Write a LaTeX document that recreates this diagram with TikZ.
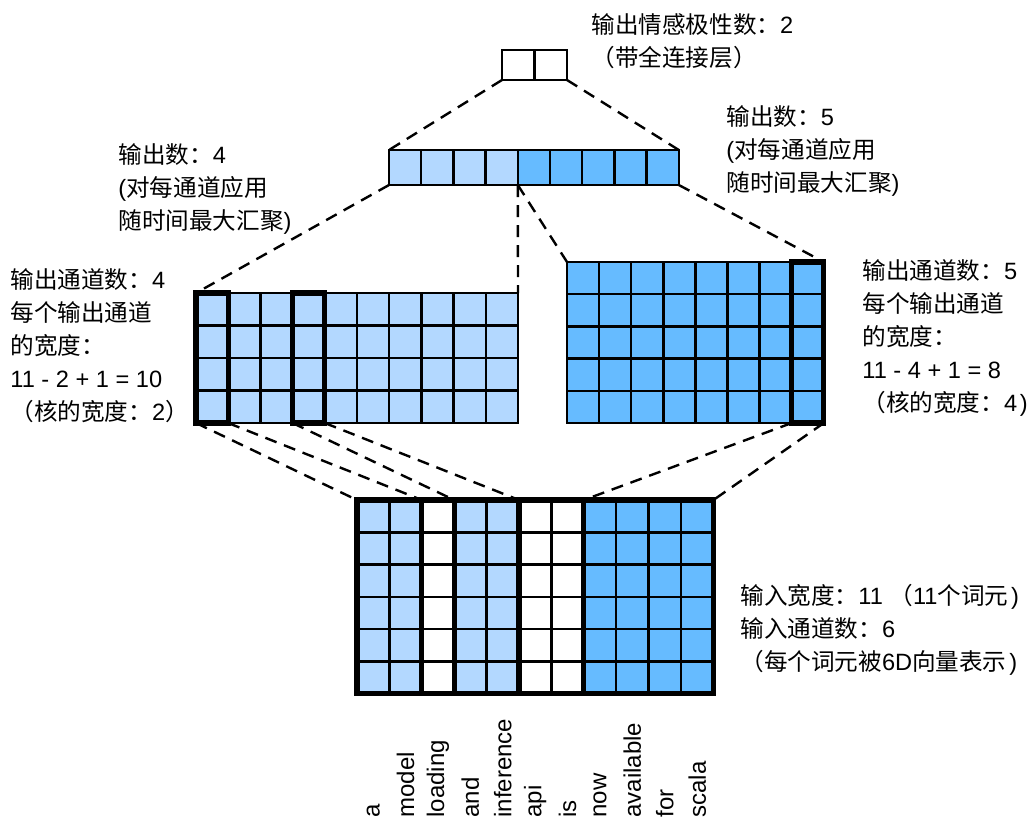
\documentclass[tikz,border=0pt]{standalone}
\usepackage{fontspec}
\setmainfont{Liberation Sans}
\newfontfamily\cjk{Noto Sans CJK SC}
\usetikzlibrary{positioning,calc}
\definecolor{cnLight}{HTML}{B3D8FF}
\definecolor{cnDark}{HTML}{66BBFF}
\newcommand{\cjkrpar}{\kern0.12em)}
\tikzset{
  cell/.style={draw=black, line width=1.2pt},
  hilite/.style={draw=black, line width=2.6pt},
  link/.style={line width=1.2pt, dash pattern=on 6pt off 4pt},
  lbl/.style={anchor=north west, align=left, inner sep=0pt,
    font=\fontsize{11.8}{16.5}\selectfont},
  word/.style={rotate=90, anchor=west, inner sep=0pt,
    font=\fontsize{12}{13}\selectfont}
}

\begin{document}
\begin{tikzpicture}[x=0.5pt, y=-0.5pt]
  \useasboundingbox (0,0) rectangle (1027,819);

  % fully connected output
  \foreach \i in {0,1}
    \draw[cell, fill=white] (502+\i*32.5,50) rectangle ++(32.5,30);
  \coordinate (fc-bl) at (502,80);
  \coordinate (fc-br) at (567,80);

  % max-pooling output
  \foreach \i in {0,...,3}
    \draw[cell, fill=cnLight] (389+\i*32.2,150) rectangle ++(32.2,35);
  \foreach \i in {4,...,8}
    \draw[cell, fill=cnDark] (389+\i*32.2,150) rectangle ++(32.2,35);
  \coordinate (pool-tl) at (389,150);
  \coordinate (pool-tr) at (678.8,150);
  \coordinate (pool-bl) at (389,185);
  \coordinate (pool-bm) at (517.8,185);
  \coordinate (pool-br) at (678.8,185);

  % conv output, kernel width 2
  \foreach \i in {0,...,9}
    \foreach \j in {0,...,3}
      \draw[cell, fill=cnLight] (196+\i*32.2,293+\j*32.5) rectangle ++(32.2,32.5);
  \draw[hilite] (196,293) rectangle ++(32.2,130);
  \draw[hilite] (196+3*32.2,293) rectangle ++(32.2,130);
  \coordinate (lc-tl) at (196,293);
  \coordinate (lc-tr) at (518,293);
  \coordinate (lc-b0) at (196,423);
  \coordinate (lc-b1) at (228.2,423);
  \coordinate (lc-b3) at (292.6,423);
  \coordinate (lc-b4) at (324.8,423);

  % conv output, kernel width 4
  \foreach \i in {0,...,7}
    \foreach \j in {0,...,4}
      \draw[cell, fill=cnDark] (567+\i*32.1,262+\j*32.2) rectangle ++(32.1,32.2);
  \draw[hilite] (567+7*32.1,262) rectangle ++(32.1,161);
  \coordinate (rc-tl) at (567,262);
  \coordinate (rc-tr) at (823.8,262);
  \coordinate (rc-b7) at (791.7,423);
  \coordinate (rc-b8) at (823.8,423);

  % input
  \foreach \i/\c in {0/cnLight,1/cnLight,2/white,3/cnLight,4/cnLight,5/white,
                     6/white,7/cnDark,8/cnDark,9/cnDark,10/cnDark}
    \foreach \j in {0,...,5}
      \draw[cell, fill=\c] (357+\i*32.4,500+\j*32.3) rectangle ++(32.4,32.3);
  \draw[hilite] (357,500) rectangle ++(356.4,193.8);
  \draw[hilite] (357,500) rectangle ++(64.8,193.8);
  \draw[hilite] (357+3*32.4,500) rectangle ++(64.8,193.8);
  \draw[hilite] (357+7*32.4,500) rectangle ++(129.6,193.8);
  \coordinate (in-t0) at (357,500);
  \coordinate (in-t2) at (421.8,500);
  \coordinate (in-t3) at (454.2,500);
  \coordinate (in-t5) at (519,500);
  \coordinate (in-t7) at (583.8,500);
  \coordinate (in-t11) at (713.4,500);

  % dashed links
  \draw[link] (fc-bl) -- (pool-tl);
  \draw[link] (fc-br) -- (pool-tr);
  \draw[link] (pool-bl) -- (lc-tl);
  \draw[link] (pool-bm) -- (lc-tr);
  \draw[link] (pool-bm) -- (rc-tl);
  \draw[link] (pool-br) -- (rc-tr);
  \draw[link] (lc-b0) -- (in-t0);
  \draw[link] (lc-b1) -- (in-t2);
  \draw[link] (lc-b3) -- (in-t3);
  \draw[link] (lc-b4) -- (in-t5);
  \draw[link] (rc-b7) -- (in-t7);
  \draw[link] (rc-b8) -- (in-t11);

  % labels
  \node[lbl] (fc-lbl) at (591,13)
    {{\cjk 输出情感极性数：}2\\{\cjk （带全连接层）}};
  \node[lbl] (pool-lbl-l) at (118,143)
    {{\cjk 输出数：}4\\({\cjk 对每通道应用}\\{\cjk 随时间最大汇聚})};
  \node[lbl] (pool-lbl-r) at (726,105)
    {{\cjk 输出数：}5\\({\cjk 对每通道应用}\\{\cjk 随时间最大汇聚})};
  \node[lbl] (lc-lbl) at (10,268)
    {{\cjk 输出通道数：}4\\{\cjk 每个输出通道}\\{\cjk 的宽度：}\\11 - 2 + 1 = 10\\{\cjk （核的宽度：}2{\cjk ）}};
  \node[lbl] (rc-lbl) at (862,259)
    {{\cjk 输出通道数：}5\\{\cjk 每个输出通道}\\{\cjk 的宽度：}\\11 - 4 + 1 = 8\\{\cjk （核的宽度：}4\cjkrpar};
  \node[lbl] (in-lbl) at (740,584)
    {{\cjk 输入宽度：}11 {\cjk （}11{\cjk 个词元}\cjkrpar\\{\cjk 输入通道数：}6\\{\cjk （每个词元被}6D{\cjk 向量表示}\cjkrpar};

  % tokens
  \foreach \w [count=\k from 0] in {a,model,loading,and,inference,api,is,now,available,for,scala}
    \node[word] (tok-\k) at (357+\k*32.4+16.2,818) {\w};
\end{tikzpicture}
\end{document}
